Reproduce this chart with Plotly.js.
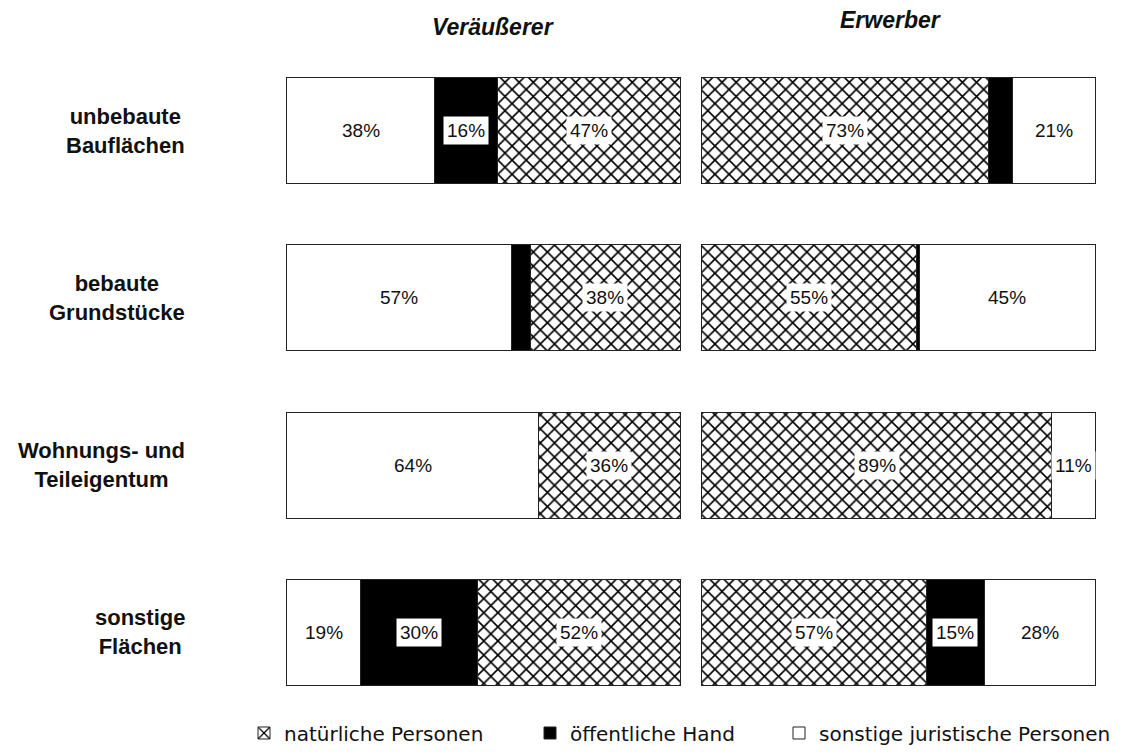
<!DOCTYPE html>
<html>
<head>
<meta charset="utf-8">
<script src="https://cdn.plot.ly/plotly-3.0.1.min.js"></script>
<style>
  html, body { margin: 0; padding: 0; background: #fff; }
  #chart { width: 1123px; height: 753px; }
</style>
</head>
<body>
<div id="chart"></div>
<script>
// Land-market participants by type, share of cases per land category
const categories = ['unbebaute Bauflächen', 'bebaute Grundstücke', 'Wohnungs- und Teileigentum', 'sonstige Flächen'];
const categoryLabels = ['unbebaute<br>Bauflächen', 'bebaute<br>Grundstücke', 'Wohnungs- und<br>Teileigentum', 'sonstige<br>Flächen'];
const panelTitles = ['Veräußerer', 'Erwerber'];
const seriesNames = ['natürliche Personen', 'öffentliche Hand', 'sonstige juristische Personen'];

// Veräußerer (sellers)
const sellerNatural = [47, 38, 36, 52];
const sellerPublic  = [16, 5, 0, 30];
const sellerOther   = [38, 57, 64, 19];

// Erwerber (buyers)
const buyerNatural = [73, 55, 89, 57];
const buyerPublic  = [6, 0.7, 0, 15];
const buyerOther   = [21, 45, 11, 28];

const FONT = 'Liberation Sans, Arial, Helvetica, sans-serif';
const LINE = { color: '#222', width: 1 };
const W = 1123;

const styles = {
  natural: {
    color: 'white', line: LINE,
    pattern: { shape: 'x', fgcolor: '#000', bgcolor: 'white', size: 10, solidity: 0.3, fillmode: 'replace' }
  },
  public: { color: 'black', line: LINE },
  other: { color: 'white', line: LINE }
};

function barTrace(name, values, key, xaxis, legendName, showlegend, rank) {
  return {
    type: 'bar', orientation: 'h',
    name: name, x: values, y: categories,
    xaxis: xaxis, yaxis: 'y',
    marker: styles[key],
    legend: legendName, legendgroup: key, showlegend: showlegend, legendrank: rank,
    hoverinfo: 'x+name'
  };
}

// Left panel stacks: sonstige | öffentliche | natürliche; right panel: natürliche | öffentliche | sonstige
const traces = [
  barTrace(seriesNames[2], sellerOther,   'other',   'x',  'legend3', true,  3),
  barTrace(seriesNames[1], sellerPublic,  'public',  'x',  'legend2', true,  2),
  barTrace(seriesNames[0], sellerNatural, 'natural', 'x',  'legend',  true,  1),
  barTrace(seriesNames[0], buyerNatural,  'natural', 'x2', 'legend',  false, 1),
  barTrace(seriesNames[1], buyerPublic,   'public',  'x2', 'legend2', false, 2),
  barTrace(seriesNames[2], buyerOther,    'other',   'x2', 'legend3', false, 3)
];

// Percentage labels in white boxes, placed at the middle of each normalised segment
const annotations = [];
function addLabels(stacks, xref) {
  categories.forEach((cat, i) => {
    const total = stacks.reduce((s, arr) => s + arr[i], 0);
    let cum = 0;
    stacks.forEach(arr => {
      const v = arr[i];
      if (v >= 10) {
        annotations.push({
          xref: xref, yref: 'y', x: (cum + v / 2) / total * 100, y: cat,
          xanchor: 'center', text: v + '%', showarrow: false,
          bgcolor: 'white', borderpad: 3,
          font: { family: FONT, size: 19, color: '#111' }
        });
      }
      cum += v;
    });
  });
}
addLabels([sellerOther, sellerPublic, sellerNatural], 'x');
addLabels([buyerNatural, buyerPublic, buyerOther], 'x2');

// Category labels on the left
categories.forEach((cat, i) => {
  annotations.push({
    xref: 'paper', yref: 'y', x: 187 / W, y: cat,
    xanchor: 'right', align: 'center',
    text: '<b>' + categoryLabels[i] + '</b>', showarrow: false,
    font: { family: FONT, size: 22, color: '#111' }
  });
});

// Panel titles
annotations.push({
  xref: 'paper', yref: 'paper', x: 493 / W, y: 1.03, xanchor: 'center', yanchor: 'middle',
  text: '<b><i>' + panelTitles[0] + '</i></b>', showarrow: false,
  font: { family: FONT, size: 23, color: '#111' }
});
annotations.push({
  xref: 'paper', yref: 'paper', x: 890 / W, y: 1.04, xanchor: 'center', yanchor: 'middle',
  text: '<b><i>' + panelTitles[1] + '</i></b>', showarrow: false,
  font: { family: FONT, size: 23, color: '#111' }
});

const legendFont = { family: 'DejaVu Sans, ' + FONT, size: 20, color: '#111' };
function legendAt(px) {
  return {
    x: px / W, y: -0.0254, xanchor: 'left', yanchor: 'middle',
    orientation: 'h', font: legendFont, bgcolor: 'rgba(0,0,0,0)',
    itemclick: false, itemdoubleclick: false
  };
}

// a hair of padding either side so the outer outlines are not clipped
const axisCommon = {
  range: [-0.3, 100.3], showgrid: false, zeroline: false, showticklabels: false,
  showline: false, ticks: '', fixedrange: true
};

const layout = {
  width: 1123, height: 753,
  margin: { l: 0, r: 0, t: 47, b: 37, autoexpand: false },
  paper_bgcolor: 'white', plot_bgcolor: 'white',
  barmode: 'stack', barnorm: 'percent', bargap: 0.366,
  font: { family: FONT, color: '#111' },
  xaxis: Object.assign({ domain: [285.8 / W, 681.2 / W] }, axisCommon),
  xaxis2: Object.assign({ domain: [700.8 / W, 1096.2 / W], anchor: 'y' }, axisCommon),
  yaxis: {
    type: 'category', autorange: 'reversed', showticklabels: false,
    showgrid: false, zeroline: false, ticks: '', showline: false, fixedrange: true
  },
  legend: legendAt(244),
  legend2: legendAt(530),
  legend3: legendAt(779),
  annotations: annotations,
  showlegend: true
};

Plotly.newPlot('chart', traces, layout, { displayModeBar: false, staticPlot: true });
</script>
</body>
</html>
